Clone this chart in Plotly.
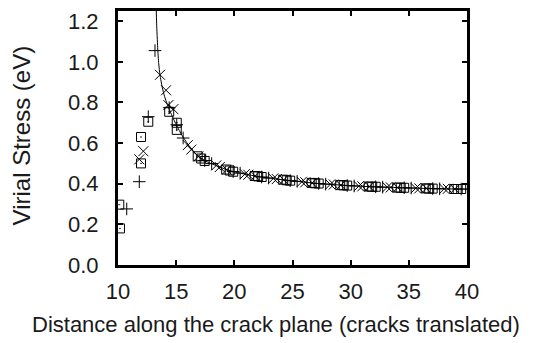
import plotly.graph_objects as go

# Fitted stress curve ahead of the crack tip
curve_x = [13.22, 13.26, 13.32, 13.41, 13.5, 13.61, 13.8, 14.0, 14.24, 14.6, 15.05, 15.5,
           16.0, 16.6, 17.2, 17.8, 18.5, 19.5, 20.5, 22.0, 23.5, 25.0, 27.0, 29.0,
           31.0, 33.0, 35.0, 37.0, 40.0]
curve_y = [1.40, 1.32, 1.19, 1.07, 0.99, 0.935, 0.875, 0.83, 0.79, 0.74, 0.685, 0.638,
           0.595, 0.552, 0.524, 0.504, 0.488, 0.466, 0.452, 0.436, 0.424, 0.414, 0.402, 0.394,
           0.387, 0.383, 0.379, 0.376, 0.373]

# Crack 1 (+)
plus_x = [10.75, 11.83, 12.6, 13.18, 14.4, 15.05,
          15.6, 17.45, 18.05, 19.9, 20.5, 22.35, 22.95, 24.8, 25.4, 27.25, 27.85,
          29.7, 30.3, 32.15, 32.75, 34.6, 35.2, 37.05, 37.65, 39.5]
plus_y = [0.276, 0.41, 0.73, 1.055, 0.774, 0.69,
          0.625, 0.514, 0.499, 0.46, 0.452, 0.433, 0.428, 0.415, 0.412, 0.401, 0.398,
          0.391, 0.389, 0.385, 0.383, 0.38, 0.379, 0.376, 0.375, 0.374]

# Crack 2 (x)
cross_x = [11.83, 12.18, 13.61, 14.13, 14.33, 14.76,
           16.0, 16.3, 16.9, 18.45, 18.75, 19.35, 20.9, 21.2, 21.8, 23.35, 23.65, 24.25,
           25.8, 26.1, 26.7, 28.25, 28.55, 29.15, 30.7, 31.0, 31.6, 33.15, 33.45, 34.05,
           35.6, 35.9, 36.5, 38.05, 38.35, 38.95]
cross_y = [0.52, 0.56, 0.936, 0.86, 0.787, 0.767,
           0.59, 0.568, 0.534, 0.49, 0.482, 0.469, 0.447, 0.444, 0.438, 0.426, 0.423, 0.419,
           0.409, 0.407, 0.404, 0.397, 0.396, 0.393, 0.388, 0.387, 0.386, 0.383, 0.382, 0.381,
           0.378, 0.377, 0.377, 0.375, 0.375, 0.374]

# Crack 3 (square)
square_x = [10.11, 10.17, 11.98, 11.98, 12.6, 14.4, 15.05, 15.05,
            16.85, 17.15, 17.45, 19.3, 19.6, 19.9, 21.75, 22.05, 22.35, 24.2, 24.5, 24.8,
            26.65, 26.95, 27.25, 29.1, 29.4, 29.7, 31.55, 31.85, 32.15, 34.0, 34.3, 34.6,
            36.45, 36.75, 37.05, 38.9, 39.2, 39.5]
square_y = [0.297, 0.18, 0.63, 0.50, 0.705, 0.754, 0.70, 0.665,
            0.535, 0.524, 0.512, 0.47, 0.465, 0.459, 0.438, 0.436, 0.433, 0.42, 0.417, 0.415,
            0.404, 0.402, 0.401, 0.393, 0.392, 0.391, 0.386, 0.385, 0.385, 0.381, 0.38, 0.38,
            0.377, 0.376, 0.376, 0.374, 0.374, 0.374]

x_ticks = [10, 15, 20, 25, 30, 35, 40]
y_ticks = [0.0, 0.2, 0.4, 0.6, 0.8, 1.0, 1.2]

ink = "#1a1a1a"
font_family = "Liberation Sans, Arial, sans-serif"

fig = go.Figure()
fig.add_trace(go.Scatter(x=curve_x, y=curve_y, mode="lines",
                         line=dict(color="black", width=1, shape="spline", smoothing=0.5),
                         showlegend=False))
fig.add_trace(go.Scatter(x=plus_x, y=plus_y, mode="markers",
                         marker=dict(symbol="cross-thin-open", size=9, color="black",
                                     line=dict(color="black", width=1)),
                         showlegend=False))
fig.add_trace(go.Scatter(x=cross_x, y=cross_y, mode="markers",
                         marker=dict(symbol="x-thin-open", size=10, color="black",
                                     line=dict(color="black", width=1)),
                         showlegend=False))
fig.add_trace(go.Scatter(x=square_x, y=square_y, mode="markers",
                         marker=dict(symbol="square-open-dot", size=9, color="black",
                                     line=dict(color="black", width=1)),
                         showlegend=False))

axis_common = dict(
    showline=True, linewidth=3, linecolor="black", mirror="allticks",
    ticks="inside", ticklen=5, tickwidth=2, tickcolor="black",
    showgrid=False, zeroline=False,
    tickfont=dict(family=font_family, size=22, color=ink),
)

fig.update_xaxes(range=[10, 40], tickvals=x_ticks, ticklabelstandoff=5, **axis_common)
fig.update_yaxes(range=[0, 1.25], tickvals=y_ticks, tickformat=".1f",
                 ticklabelstandoff=12, **axis_common)

fig.add_annotation(text="Distance along the crack plane (cracks translated)",
                   xref="paper", yref="paper", x=0.454, y=-0.233,
                   xanchor="center", yanchor="middle", showarrow=False,
                   font=dict(family=font_family, size=22, color=ink))
fig.add_annotation(text="Virial Stress (eV)", textangle=-90,
                   xref="paper", yref="paper", x=-0.278, y=0.51,
                   xanchor="center", yanchor="middle", showarrow=False,
                   font=dict(family=font_family, size=24, color=ink))

fig.update_layout(width=553, height=343,
                  margin=dict(l=118, r=86, t=8, b=78),
                  paper_bgcolor="white", plot_bgcolor="white")

fig.write_html("out.html")
